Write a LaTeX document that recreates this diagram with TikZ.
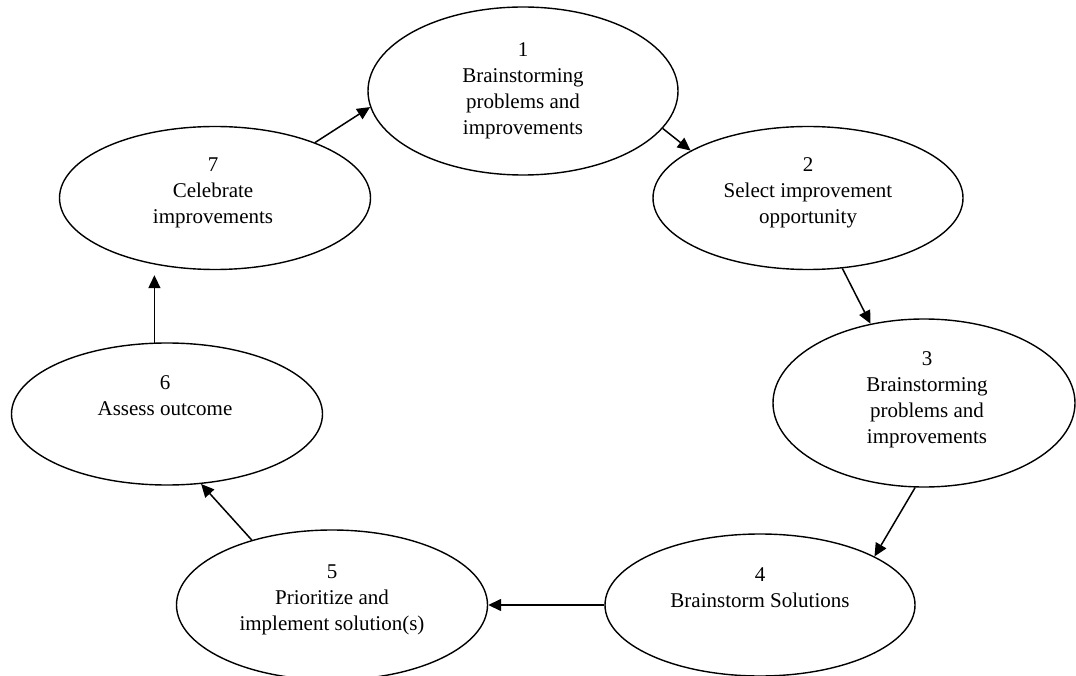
\documentclass[tikz,border=0pt]{standalone}
\usepackage{fontspec}
\setmainfont{Liberation Serif}
\usetikzlibrary{shapes.geometric,arrows.meta}
\begin{document}
\begin{tikzpicture}[x=1pt,y=-1pt,
  oval/.style={draw=black, ellipse, line width=1.4pt, inner sep=0pt},
  lbl/.style={align=center, font=\fontsize{21}{26}\selectfont, inner sep=0pt, text=black},
  arr/.style={draw=black, line width=1.5pt, -{Triangle[length=13pt,width=12pt]}}]
\useasboundingbox (0,0) rectangle (1076,676);
% ellipses
\node[oval, minimum width=310pt, minimum height=168pt] (n1) at (523,91) {};
\node[oval, minimum width=310pt, minimum height=143pt] (n2) at (808,198) {};
\node[oval, minimum width=302pt, minimum height=168pt] (n3) at (924,403) {};
\node[oval, minimum width=310pt, minimum height=142pt] (n4) at (760,605) {};
\node[oval, minimum width=311pt, minimum height=150pt] (n5) at (332,605) {};
\node[oval, minimum width=311pt, minimum height=142pt] (n6) at (167,414) {};
\node[oval, minimum width=311pt, minimum height=143pt] (n7) at (215,198) {};
% texts
\node[lbl] (t1) at (523,90.5) {1\\Brainstorming\\problems and\\improvements};
\node[lbl] (t2) at (808,192.5) {2\\Select improvement\\opportunity};
\node[lbl] (t3) at (927,400) {3\\Brainstorming\\problems and\\improvements};
\node[lbl] (t4) at (760,588) {4\\Brainstorm Solutions};
\node[lbl] (t5) at (332,600) {5\\Prioritize and\\implement solution(s)};
\node[lbl] (t6) at (165,396) {6\\Assess outcome};
\node[lbl] (t7) at (213,192.5) {7\\Celebrate\\improvements};
% connectors
\draw[arr] (n7.29) -- (n1.186);
\draw[arr] (n1.345) -- (n2.158);
\draw[arr] (n2.296) -- (n3.124);
\draw[arr] (n3.264) -- (n4.23);
\draw[arr] (n4.west) -- (n5.east);
\draw[arr] (n5.141) -- (n6.296);
\draw[arr, shorten >=5pt] (n6.100) -- (n7.south -| n6.100);
\end{tikzpicture}
\end{document}
